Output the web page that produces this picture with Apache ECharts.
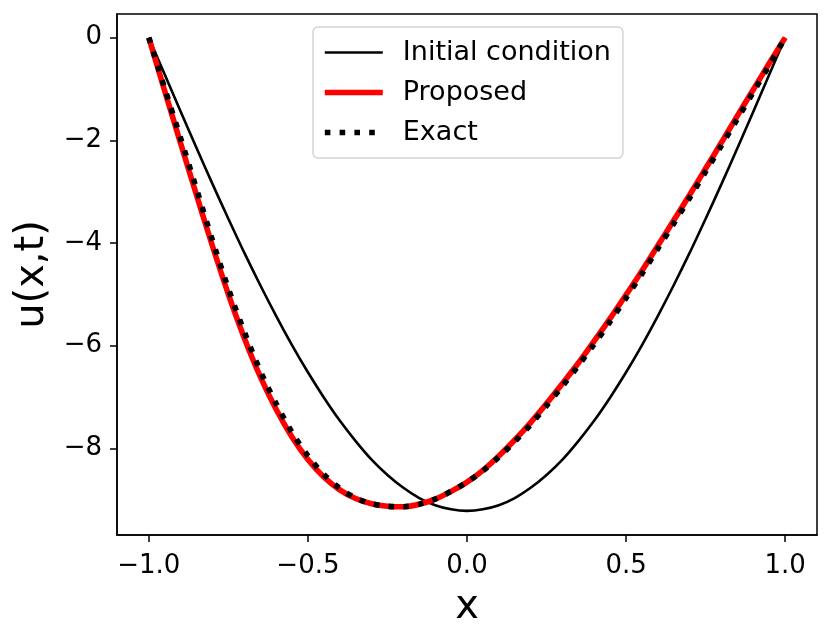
<!DOCTYPE html>
<html>
<head>
<meta charset="utf-8">
<script src="https://cdn.jsdelivr.net/npm/echarts@6/dist/echarts.min.js"></script>
<style>
	html, body { margin: 0; padding: 0; background: #fff; }
	#main { width: 831px; height: 639px; }
</style>
</head>
<body>
<div id="main"></div>
<script>
// x positions shared by all three curves
var xs = [-1.00, -0.95, -0.90, -0.85, -0.80, -0.75, -0.70, -0.65, -0.60, -0.55,
	-0.50, -0.45, -0.40, -0.35, -0.30, -0.25, -0.20, -0.15, -0.10, -0.05,
	0.00, 0.05, 0.10, 0.15, 0.20, 0.25, 0.30, 0.35, 0.40, 0.45,
	0.50, 0.55, 0.60, 0.65, 0.70, 0.75, 0.80, 0.85, 0.90, 0.95, 1.00];

var initialCond = [0, -0.72, -1.44, -2.15, -2.85, -3.53, -4.19, -4.82, -5.42, -5.99,
	-6.52, -7.01, -7.46, -7.86, -8.22, -8.52, -8.77, -8.97, -9.11, -9.19,
	-9.22, -9.19, -9.11, -8.97, -8.77, -8.52, -8.22, -7.86, -7.46, -7.01,
	-6.52, -5.99, -5.42, -4.82, -4.19, -3.53, -2.85, -2.15, -1.44, -0.72, 0];

var proposed = [0, -1.04, -2.06, -3.07, -4.06, -5.00, -5.85, -6.60, -7.24, -7.78,
	-8.22, -8.56, -8.81, -8.98, -9.08, -9.13, -9.14, -9.09, -8.99, -8.84,
	-8.66, -8.43, -8.15, -7.84, -7.50, -7.13, -6.74, -6.34, -5.91, -5.47,
	-5.01, -4.54, -4.05, -3.56, -3.06, -2.55, -2.04, -1.52, -1.01, -0.50, 0];

var exact = [0, -0.99, -1.96, -2.95, -3.95, -4.89, -5.73, -6.49, -7.13, -7.69,
	-8.15, -8.51, -8.78, -8.97, -9.08, -9.13, -9.14, -9.09, -8.99, -8.84,
	-8.66, -8.44, -8.17, -7.87, -7.54, -7.17, -6.79, -6.39, -5.97, -5.53,
	-5.07, -4.60, -4.11, -3.62, -3.12, -2.61, -2.10, -1.58, -1.06, -0.54, 0];

var xTicks = [-1.0, -0.5, 0.0, 0.5, 1.0];
var yTicks = [-8, -6, -4, -2, 0];

function pairs(ys) {
	return xs.map(function (x, i) { return [x, ys[i]]; });
}

function minusSign(s) {
	return s.replace('-', '\u2212');
}

var chartDom = document.getElementById('main');
var myChart = echarts.init(chartDom, null, { renderer: 'canvas' });
var option;

var font = 'DejaVu Sans';

var frameLine = { show: true, onZero: false, lineStyle: { color: '#000', width: 1.5 } };

option = {
	animation: false,
	textStyle: { fontFamily: font, color: '#000' },
	grid: {
		left: 117,
		right: 14,
		top: 14,
		bottom: 104,
		show: true,
		borderColor: '#000',
		borderWidth: 1.5,
		backgroundColor: 'transparent'
	},
	legend: {
		left: 313,
		top: 27,
		orient: 'vertical',
		itemWidth: 58,
		itemHeight: 14,
		itemGap: 13,
		padding: [12, 12, 12, 9],
		backgroundColor: 'rgba(255,255,255,0.8)',
		borderColor: '#d4d4d4',
		borderWidth: 1.5,
		borderRadius: 5,
		itemStyle: { opacity: 0 },
		textStyle: {
			fontFamily: font,
			fontSize: 27,
			color: '#000',
			padding: [0, 0, 0, 15]
		},
		data: [
			{ name: 'Initial condition', lineStyle: { width: 2.6 } },
			{ name: 'Proposed', lineStyle: { width: 5.6 } },
			{ name: 'Exact', lineStyle: { width: 5.6 } }
		]
	},
	xAxis: {
		type: 'value',
		min: -1.1,
		max: 1.1,
		name: 'x',
		nameLocation: 'middle',
		nameGap: 53,
		nameTextStyle: { fontFamily: font, fontSize: 40, color: '#000' },
		axisLine: frameLine,
		splitLine: { show: false },
		axisTick: {
			show: true,
			customValues: xTicks,
			length: 7,
			lineStyle: { color: '#000', width: 1.5 }
		},
		axisLabel: {
			customValues: xTicks,
			margin: 18,
			fontFamily: font,
			fontSize: 26,
			color: '#000',
			formatter: function (v) { return minusSign(v.toFixed(1)); }
		}
	},
	yAxis: {
		type: 'value',
		min: -9.69,
		max: 0.46,
		name: 'u(x,t)',
		nameLocation: 'middle',
		nameGap: 64,
		nameTextStyle: { fontFamily: font, fontSize: 40, color: '#000' },
		axisLine: frameLine,
		splitLine: { show: false },
		axisTick: {
			show: true,
			customValues: yTicks,
			length: 7,
			lineStyle: { color: '#000', width: 1.5 }
		},
		axisLabel: {
			customValues: yTicks,
			margin: 15,
			fontFamily: font,
			fontSize: 26,
			color: '#000',
			formatter: function (v) { return minusSign(String(v)); }
		}
	},
	series: [
		{
			name: 'Initial condition',
			type: 'line',
			symbol: 'none',
			smooth: 0.3,
			lineStyle: { color: '#000', width: 2.6 },
			itemStyle: { color: '#000' },
			data: pairs(initialCond),
			z: 2
		},
		{
			name: 'Proposed',
			type: 'line',
			symbol: 'none',
			smooth: 0.3,
			lineStyle: { color: '#ff0000', width: 5.6 },
			itemStyle: { color: '#ff0000' },
			data: pairs(proposed),
			z: 3
		},
		{
			name: 'Exact',
			type: 'line',
			symbol: 'none',
			smooth: 0.3,
			lineStyle: { color: '#000', width: 5.6, type: [5.6, 9.2], cap: 'butt' },
			itemStyle: { color: '#000' },
			data: pairs(exact),
			z: 4
		}
	]
};

option && myChart.setOption(option);
</script>
</body>
</html>
